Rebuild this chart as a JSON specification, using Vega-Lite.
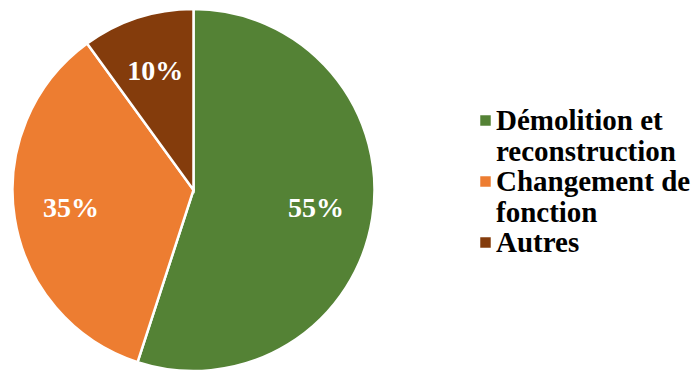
{
  "$schema": "https://vega.github.io/schema/vega-lite/v6.json",
  "width": 387,
  "height": 364,
  "padding": {"left": 0, "top": 8, "right": 312, "bottom": 0},
  "autosize": {"type": "none"},
  "background": "white",
  "config": {
    "view": {"stroke": null},
    "legend": {
      "labelFont": "Liberation Serif",
      "labelFontWeight": "bold",
      "labelFontSize": 29,
      "labelColor": "black",
      "labelLimit": 400
    }
  },
  "data": {
    "values": [
      {"categorie": "Démolition et reconstruction", "part": 0.55, "ordre": 1},
      {"categorie": "Changement de fonction", "part": 0.35, "ordre": 2},
      {"categorie": "Autres", "part": 0.10, "ordre": 3}
    ]
  },
  "encoding": {
    "theta": {"field": "part", "type": "quantitative", "stack": true},
    "order": {"field": "ordre", "type": "quantitative"}
  },
  "layer": [
    {
      "mark": {"type": "arc", "outerRadius": 181, "stroke": "white", "strokeWidth": 2.5},
      "encoding": {
        "color": {
          "field": "categorie",
          "type": "nominal",
          "scale": {
            "domain": ["Démolition et reconstruction", "Changement de fonction", "Autres"],
            "range": ["#548235", "#ED7D31", "#843C0C"]
          },
          "legend": {
            "title": null,
            "orient": "none",
            "legendX": 471,
            "legendY": 98,
            "padding": 0,
            "symbolType": "square",
            "symbolSize": 110,
            "symbolStrokeWidth": 0,
            "labelOffset": -4,
            "rowPadding": -3,
            "labelExpr": "datum.label == 'Démolition et reconstruction' ? ['Démolition et', 'reconstruction'] : datum.label == 'Changement de fonction' ? ['Changement de', 'fonction'] : datum.label"
          }
        }
      }
    },
    {
      "mark": {"type": "text", "radius": 124, "font": "Liberation Serif", "fontWeight": "bold", "fontSize": 28},
      "encoding": {
        "text": {"field": "part", "type": "quantitative", "format": ".0%"},
        "color": {"value": "white"}
      }
    }
  ]
}
